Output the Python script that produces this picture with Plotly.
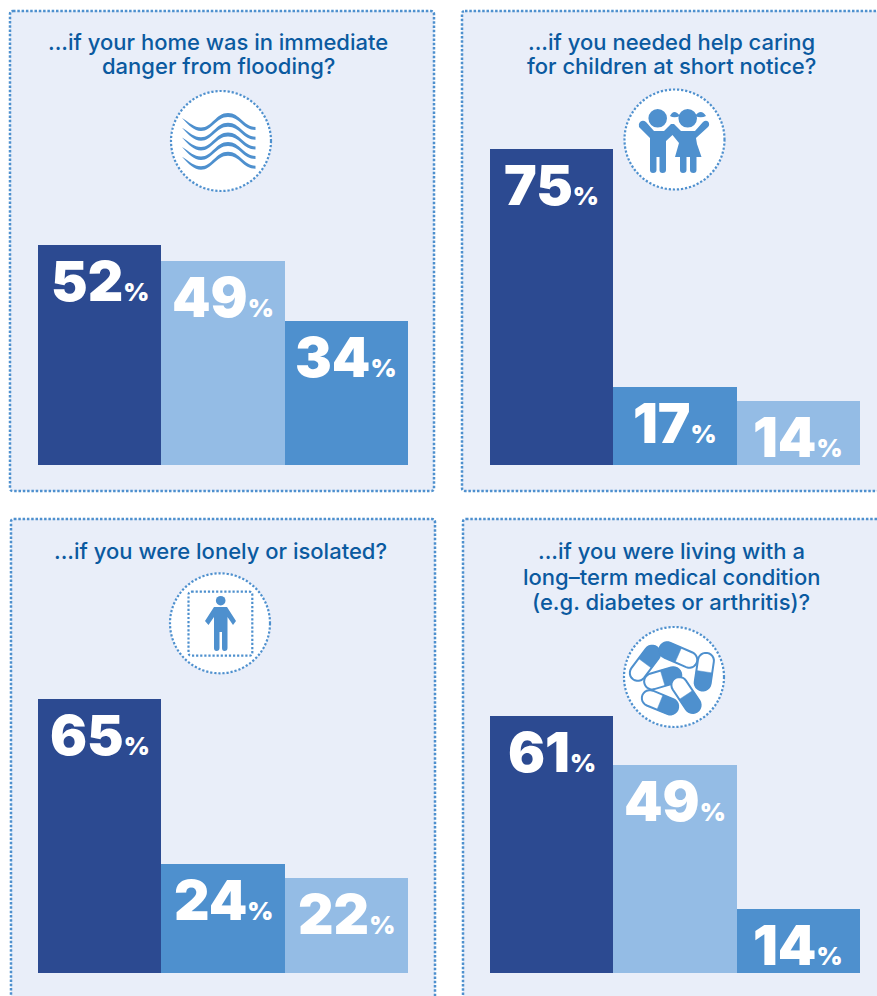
import math
import re
import plotly.graph_objects as go

W, H = 877, 996

# question text, one list per panel
flood_title = ["...if your home was in immediate", "danger from flooding?"]
kids_title = ["...if you needed help caring", "for children at short notice?"]
lonely_title = ["...if you were lonely or isolated?"]
medical_title = ["...if you were living with a", "long–term medical condition", "(e.g. diabetes or arthritis)?"]

# printed percentages
flood_labels = [52, 49, 34]
kids_labels = [75, 17, 14]
lonely_labels = [65, 24, 22]
medical_labels = [61, 49, 14]

# bar lengths as drawn in the picture (small bars are a little longer than printed)
flood_bars = [52.1, 48.3, 34.1]
kids_bars = [74.9, 18.5, 15.2]
lonely_bars = [64.9, 25.8, 22.5]
medical_bars = [60.9, 49.3, 15.2]

DARK = "#2C4A91"
MID = "#4E90CE"
LIGHT = "#94BCE5"
PANEL = "#E9EEF9"
TITLE = "#0B5AA0"

panels = [
    dict(title=flood_title, labels=flood_labels, bars=flood_bars, colors=[DARK, LIGHT, MID],
         box=(10, 11, 434, 491), x=(38, 408), base=465, cx=218, ty=42, step=24),
    dict(title=kids_title, labels=kids_labels, bars=kids_bars, colors=[DARK, MID, LIGHT],
         box=(462, 11, 900, 491), x=(490, 860), base=465, cx=671, ty=42, step=24),
    dict(title=lonely_title, labels=lonely_labels, bars=lonely_bars, colors=[DARK, MID, LIGHT],
         box=(11, 519, 435, 1020), x=(38, 408), base=973, cx=221, ty=551, step=25.5),
    dict(title=medical_title, labels=medical_labels, bars=medical_bars, colors=[DARK, LIGHT, MID],
         box=(463, 519, 900, 1020), x=(490, 860), base=973, cx=671, ty=551, step=25.5),
]
PX_PER_UNIT = 4.22
PLOT_H = 330


def to_paper(path):
    # path written in picture pixels -> paper coordinates
    out, is_x = [], True
    for tok in re.findall(r"[A-Z]|-?\d+\.?\d*", path):
        if tok.isalpha():
            out.append(tok)
            is_x = True
        else:
            v = float(tok)
            out.append(f"{v / W:.5f}" if is_x else f"{1 - v / H:.5f}")
            is_x = not is_x
    return " ".join(out)


def px_shape(path, fill=None, line=None, width=0, dash=None):
    s = dict(type="path", path=to_paper(path), xref="paper", yref="paper", layer="below",
             line=dict(width=width, color=line or "rgba(0,0,0,0)"))
    if fill:
        s["fillcolor"] = fill
    if dash:
        s["line"]["dash"] = dash
    return s


def round_rect(x0, y0, x1, y1, r):
    return (f"M{x0 + r},{y0} L{x1 - r},{y0} Q{x1},{y0} {x1},{y0 + r} L{x1},{y1 - r} Q{x1},{y1} {x1 - r},{y1} "
            f"L{x0 + r},{y1} Q{x0},{y1} {x0},{y1 - r} L{x0},{y0 + r} Q{x0},{y0} {x0 + r},{y0} Z")


def disc(cx, cy, r, fill=None, line=None, width=0, dash=None):
    s = dict(type="circle", xref="paper", yref="paper", layer="below",
             x0=(cx - r) / W, x1=(cx + r) / W, y0=1 - (cy + r) / H, y1=1 - (cy - r) / H,
             line=dict(width=width, color=line or "rgba(0,0,0,0)"))
    if fill:
        s["fillcolor"] = fill
    if dash:
        s["line"]["dash"] = dash
    return s


def pill(cx, cy, length, wid, dx, dy):
    # capsule with a solid half towards (dx, dy) and an outlined half the other way
    n = math.hypot(dx, dy)
    ux, uy = dx / n, dy / n
    r = wid / 2
    half = length / 2 - r
    a0 = math.atan2(uy, ux)

    def cap(sign):
        pts = []
        for k in range(13):
            a = a0 + (sign - 1) * math.pi / 2 + (k / 12 - 0.5) * math.pi
            pts.append((cx + sign * half * ux + r * math.cos(a), cy + sign * half * uy + r * math.sin(a)))
        return pts

    outline = cap(1) + cap(-1)
    solid = cap(1) + [(cx - uy * r, cy + ux * r), (cx + uy * r, cy - ux * r)]
    to_d = lambda pts: "M" + " L".join(f"{x:.1f},{y:.1f}" for x, y in pts) + " Z"
    return [px_shape(to_d(outline), fill="#FFFFFF", line=MID, width=2),
            px_shape(to_d(solid), fill=MID, line=MID, width=0.5)]


fig = go.Figure()
shapes = []
annotations = []

for i, p in enumerate(panels):
    n = i + 1
    xname = "x" if i == 0 else f"x{n}"
    yname = "y" if i == 0 else f"y{n}"
    xa = "xaxis" if i == 0 else f"xaxis{n}"
    ya = "yaxis" if i == 0 else f"yaxis{n}"
    x0, y0, x1, y1 = p["box"]
    shapes.append(px_shape(round_rect(x0, y0, x1, y1, 3), fill=PANEL, line=MID, width=2.5, dash="2.5px,1.8px"))

    fig.add_trace(go.Bar(x=[0, 1, 2], y=p["bars"], width=1, marker=dict(color=p["colors"], line=dict(width=0)),
                         hoverinfo="skip", showlegend=False, xaxis=xname, yaxis=yname))
    fig.update_layout({
        xa: dict(domain=[p["x"][0] / W, p["x"][1] / W], range=[-0.5, 2.5], visible=False, fixedrange=True),
        ya: dict(domain=[1 - p["base"] / H, 1 - (p["base"] - PLOT_H) / H], range=[0, PLOT_H / PX_PER_UNIT],
                 visible=False, fixedrange=True),
    })

    for j, (lab, bar) in enumerate(zip(p["labels"], p["bars"])):
        annotations.append(dict(
            x=j, y=bar, xref=xname, yref=yname, yanchor="top", xanchor="center", yshift=-1, showarrow=False,
            text=f"{lab}<span style='font-size:25px'>%</span>",
            font=dict(family="Inter", size=55, color="#FFFFFF", weight=900)))

    for k, line in enumerate(p["title"]):
        annotations.append(dict(
            x=p["cx"] / W, y=1 - (p["ty"] + k * p["step"]) / H, xref="paper", yref="paper", xanchor="center",
            yanchor="middle", showarrow=False, text=line,
            font=dict(family="Inter", size=22, color=TITLE, weight=500)))

# icon discs
DOTS = "2.2px,1.9px"
for cx, cy in [(221, 141), (674.5, 139.5), (220, 623.3), (674, 677)]:
    shapes.append(disc(cx, cy, 50, fill="#FFFFFF", line=MID, width=2.2, dash=DOTS))

# waves
for k in range(5):
    o = k * 9.7
    wave_top = (f"M182,{118 + o} C190,{123 + o} 194,{127.5 + o} 201,{127.5 + o} C212,{127.5 + o} 216,{113 + o} 228,{113 + o} "
                f"C240,{113 + o} 243,{126.5 + o} 255.5,{127 + o} L255.5,{130 + o} C243,{130 + o} 240,{117 + o} 228,{117 + o} "
                f"C216,{117 + o} 212,{131 + o} 201,{131 + o} C194,{131 + o} 189,{125.5 + o} 182,{118 + o} Z")
    shapes.append(px_shape(wave_top, fill=MID))

# children
shapes.append(disc(657.7, 118.3, 9.3, fill=MID))
shapes.append(disc(687.7, 118.3, 9.3, fill=MID))
shapes.append(px_shape("M680,116 Q674,108 670,116 Q674,118.5 680,116 Z M695,116 Q701,108 706,116 Q701,118.5 695,116 Z", fill=MID))
kids = ("M639,127 Q638,124 640,122 Q643,119.5 646,122 L654,131 L664,131 L671,124 L674,124 L681,131 L695,131 L703,122 "
        "Q706,119.5 708.5,122 Q710,125 708,127 L696,138 "
        "L697,144 L701.5,157 L696.5,157 L696.5,170 Q696.5,173 693.5,173 Q690,173 690,170 L690,157 L686.5,157 L686.5,170 "
        "Q686.5,173 683,173 Q680,173 680,170 L680,157 L675,157 L679,143 L672.5,135 L666,141 L666,170 Q666,173 662.5,173 "
        "Q659.5,173 659.5,170 L659.5,157 L656.5,157 L656.5,170 Q656.5,173 653,173 Q650,173 650,170 L650,138 Z")
shapes.append(px_shape(kids, fill=MID))

# person in dotted square
shapes.append(px_shape(round_rect(188.5, 591.7, 252.3, 655.7, 3), line=MID, width=2.2, dash=DOTS))
shapes.append(disc(220.7, 600.7, 4.8, fill=MID))
person = ("M214,607 L227,607 L236,621 L233,625 L227.5,617 L227.5,648 Q227.5,651 224.5,651 Q222,651 222,648 L222,632 L219.5,632 "
          "L219.5,648 Q219.5,651 216.5,651 Q214,651 214,648 L214,617 L208.5,625 L205,621 Z")
shapes.append(px_shape(person, fill=MID))

# capsules
for args in [(645, 663.3, 40, 16, 60, -80), (678.3, 655, 40, 16, -80, -35), (704.3, 671.7, 38, 16, -12, 80),
             (662.7, 678.3, 38, 16, 85, -25), (686, 695, 40, 16, 50, 75), (660, 702.3, 38, 16, 85, 35)]:
    shapes.extend(pill(*args))

fig.update_layout(width=W, height=H, margin=dict(l=0, r=0, t=0, b=0), paper_bgcolor="#FFFFFF",
                  plot_bgcolor="rgba(0,0,0,0)", bargap=0, shapes=shapes, annotations=annotations, showlegend=False)

fig.write_html("out.html", config=dict(displayModeBar=False),
               post_script="document.body.style.margin='0';document.body.style.overflow='hidden';")
